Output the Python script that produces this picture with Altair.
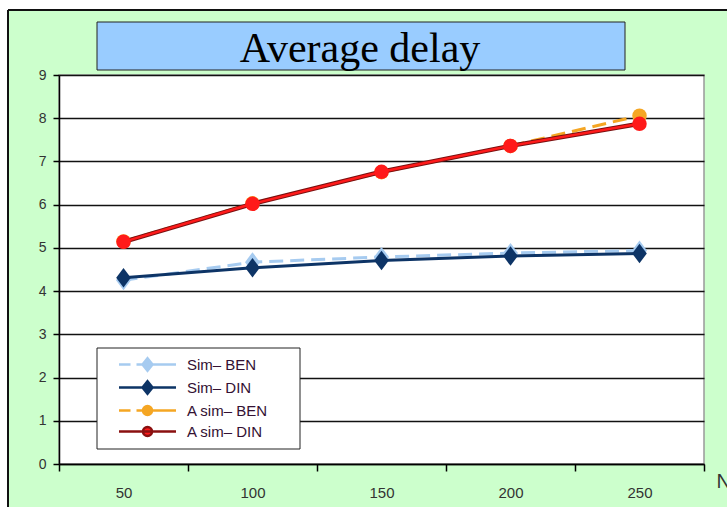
import altair as alt
import pandas as pd

TITLE = "Average delay"
N_VALUES = [50, 100, 150, 200, 250]
SERIES = ["Sim– BEN", "Sim– DIN", "A sim– BEN", "A sim– DIN"]
SIM_BEN = [4.25, 4.67, 4.79, 4.88, 4.94]
SIM_DIN = [4.31, 4.54, 4.71, 4.81, 4.87]
ASIM_BEN = [5.15, 6.03, 6.75, 7.36, 8.06]
ASIM_DIN = [5.14, 6.02, 6.76, 7.36, 7.87]
X_TICKS = [25, 50, 75, 100, 125, 150, 175, 200, 225, 250, 275]
Y_TICKS = [0, 1, 2, 3, 4, 5, 6, 7, 8, 9]

rows = []
for name, vals in zip(SERIES, [SIM_BEN, SIM_DIN, ASIM_BEN, ASIM_DIN]):
    for n, v in zip(N_VALUES, vals):
        rows.append({"N": n, "delay": v, "series": name})
df = pd.DataFrame(rows)

W, H = 645, 389

FILL_COLORS = ["#a6cbf0", "#0d3466", "#f5a623", "#ff1a1a"]
STROKE_COLORS = ["#a6cbf0", "#0d3466", "#f5a623", "#8a1010"]
DIAMOND = "M0,-1L0.75,0L0,1L-0.75,0Z"

# legend symbol paths (line + marker), scaled by sqrt(size)/2 = 10
LEG_DIAMOND = "M-0.5,0L0,-0.62L0.5,0L0,0.62Z"
LEG_CIRCLE = "M-0.45,0A0.45,0.45 0 1,0 0.45,0A0.45,0.45 0 1,0 -0.45,0Z"
LEG_SHAPES = [
    "M-2.85,0L-1.7,0M-1.1,0L2.85,0" + LEG_DIAMOND,
    "M-2.85,0L2.85,0" + LEG_DIAMOND,
    "M-2.85,0L-1.7,0M-1.1,0L2.85,0" + LEG_CIRCLE,
    "M-2.85,0L2.85,0" + LEG_CIRCLE,
]

x_enc = alt.X(
    "N:Q",
    scale=alt.Scale(domain=[25, 275], nice=False, zero=False),
    axis=alt.Axis(
        values=X_TICKS,
        labelExpr="datum.value % 50 == 0 ? datum.label : ''",
        tickOpacity={"condition": {"test": "datum.value % 50 == 25", "value": 1}, "value": 0},
        tickSize=7,
        tickColor="#000",
        tickWidth=1.5,
        labelPadding=14,
        labelFontSize=15,
        labelFont="Liberation Sans",
        labelColor="#333",
        domainColor="#000",
        domainWidth=1.5,
        grid=False,
        title="N",
        titleFont="Liberation Sans",
        titleFontSize=20,
        titleFontWeight="normal",
        titleColor="#333",
        titleX=657,
        titleY=17,
        titleAlign="left",
        titleBaseline="middle",
    ),
)
y_enc = alt.Y(
    "delay:Q",
    scale=alt.Scale(domain=[0, 9], nice=False),
    axis=alt.Axis(
        values=Y_TICKS,
        tickSize=6,
        tickColor="#000",
        tickWidth=1.5,
        labelPadding=7,
        labelFontSize=14,
        labelFont="Liberation Sans",
        labelColor="#333",
        domainColor="#000",
        domainWidth=1.5,
        gridColor="#111",
        gridWidth=1.5,
        title=None,
    ),
)

base = alt.Chart(df)
layers = []

one = alt.InlineData(values=[{"k": 1}])
# white margins and the black frame of the green panel
layers.append(alt.Chart(one).mark_rect(color="white").encode(
    x=alt.value(-59), x2=alt.value(668), y=alt.value(-75), y2=alt.value(-65)))
layers.append(alt.Chart(one).mark_rect(color="white").encode(
    x=alt.value(-59), x2=alt.value(-51), y=alt.value(-75), y2=alt.value(432)))
layers.append(alt.Chart(one).mark_rule(color="#111", strokeWidth=2).encode(
    x=alt.value(-51), x2=alt.value(668), y=alt.value(-65)))
layers.append(alt.Chart(one).mark_rule(color="#111", strokeWidth=2).encode(
    x=alt.value(-51), y=alt.value(-65), y2=alt.value(432)))

# title box
layers.append(alt.Chart(one).mark_rect(fill="#99ccff", stroke="#222", strokeWidth=1).encode(
    x=alt.value(38), x2=alt.value(566), y=alt.value(-53), y2=alt.value(-5)))
layers.append(alt.Chart(one).mark_text(
    font="Liberation Serif", fontSize=42, color="#000", align="center", baseline="alphabetic"
).encode(x=alt.value(301), y=alt.value(-13), text=alt.value(TITLE)))

# legend frame
layers.append(alt.Chart(one).mark_rect(fill="white", stroke="#222", strokeWidth=1).encode(
    x=alt.value(38), x2=alt.value(241), y=alt.value(273), y2=alt.value(374)))

# series
styles = [
    dict(dash=[14, 7], width=3, shape=DIAMOND, size=400),
    dict(dash=None, width=3, shape=DIAMOND, size=380),
    dict(dash=[14, 7], width=3, shape="circle", size=210),
    dict(dash=None, width=2.5, shape="circle", size=210),
]
for i, name in enumerate(SERIES):
    st = styles[i]
    sub = base.transform_filter(alt.datum.series == name)
    if i == 3:
        layers.append(sub.mark_line(color="#7a1010", strokeWidth=4.5).encode(x=x_enc, y=y_enc))
    lk = dict(color=FILL_COLORS[i], strokeWidth=st["width"])
    if st["dash"]:
        lk["strokeDash"] = st["dash"]
    layers.append(sub.mark_line(**lk).encode(x=x_enc, y=y_enc))
    layers.append(sub.mark_point(filled=True, shape=st["shape"], size=st["size"], opacity=1,
                                 color=FILL_COLORS[i]).encode(x=x_enc, y=y_enc))

# invisible layer providing the legend
legend = alt.Legend(
    title=None,
    orient="none",
    legendX=38,
    legendY=272,
    padding=6,
    labelFont="Liberation Sans",
    labelFontSize=15,
    labelColor="#331133",
    symbolSize=400,
    symbolStrokeWidth=2.5,
    symbolOpacity=1,
    symbolOffset=33,
    labelOffset=28,
    rowPadding=0,
)
sort = SERIES
layers.append(base.mark_point(filled=True, opacity=0, size=1).encode(
    x=x_enc, y=y_enc,
    fill=alt.Fill("series:N", sort=sort, scale=alt.Scale(domain=SERIES, range=FILL_COLORS), legend=legend),
    stroke=alt.Stroke("series:N", sort=sort, scale=alt.Scale(domain=SERIES, range=STROKE_COLORS), legend=legend),
    shape=alt.Shape("series:N", sort=sort, scale=alt.Scale(domain=SERIES, range=LEG_SHAPES), legend=legend),
))

chart = alt.layer(*layers).properties(
    width=W, height=H,
    autosize=alt.AutoSizeParams(type="none"),
    padding={"left": 59, "top": 75, "right": 23, "bottom": 43},
    background="#ccffcc",
).configure_view(fill="white", stroke="#999", strokeWidth=1.5)

chart.save("out.html", embed_options={"renderer": "svg", "actions": False})
